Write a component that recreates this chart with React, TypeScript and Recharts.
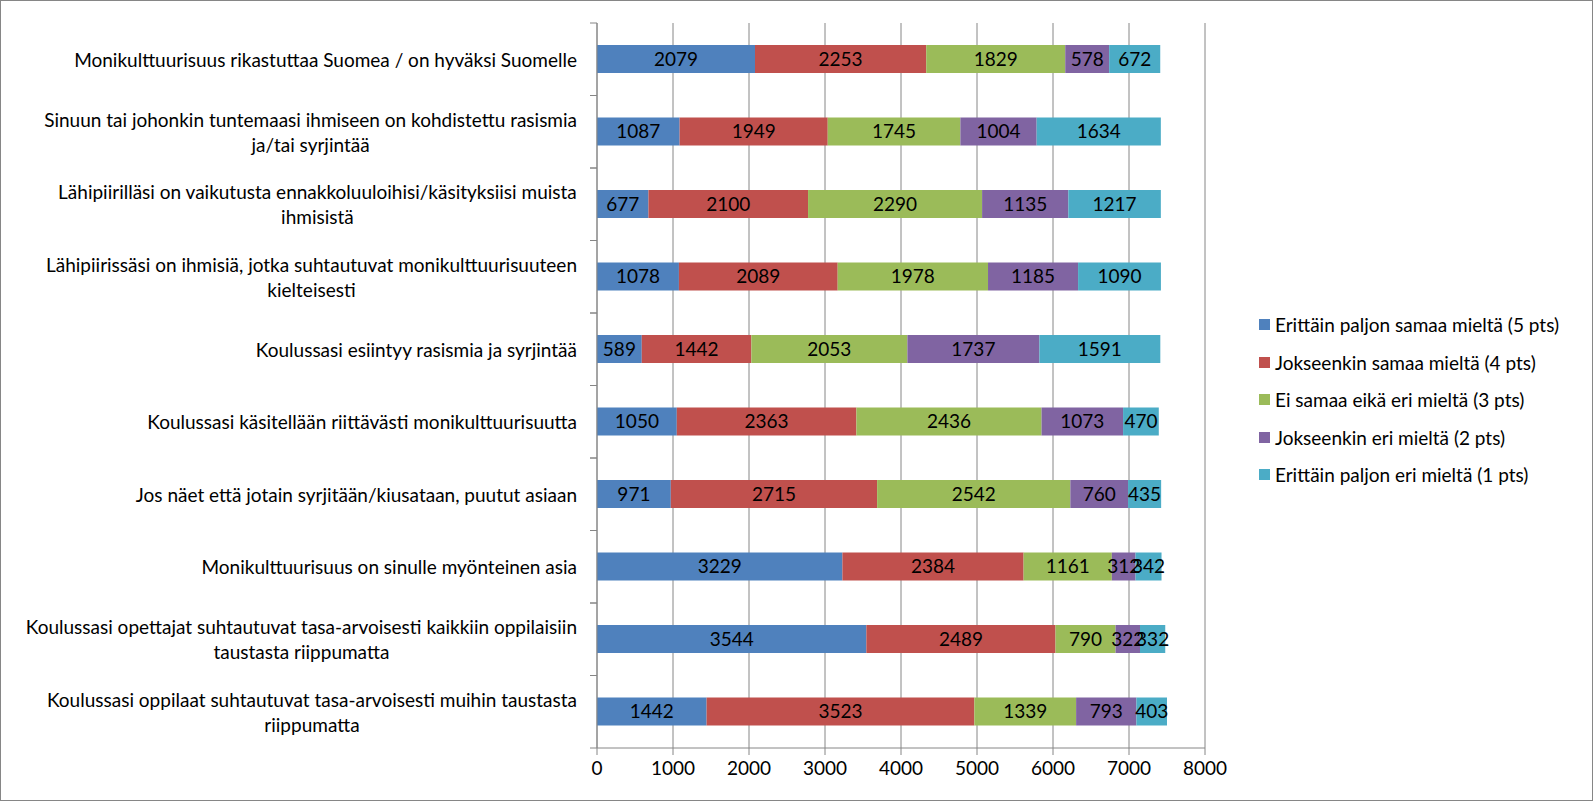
import React from "react";
import {
	BarChart,
	Bar,
	XAxis,
	YAxis,
	CartesianGrid,
	Legend,
	LabelList,
} from "recharts";

// statements (line breaks as in the original chart)
const categories: string[] = [
	"Monikulttuurisuus rikastuttaa Suomea / on hyväksi Suomelle",
	"Sinuun tai johonkin tuntemaasi ihmiseen on kohdistettu rasismia\nja/tai syrjintää",
	"Lähipiirilläsi on vaikutusta ennakkoluuloihisi/käsityksiisi muista\nihmisistä",
	"Lähipiirissäsi on ihmisiä, jotka suhtautuvat monikulttuurisuuteen\nkielteisesti",
	"Koulussasi esiintyy rasismia ja syrjintää",
	"Koulussasi käsitellään riittävästi monikulttuurisuutta",
	"Jos näet että jotain syrjitään/kiusataan, puutut asiaan",
	"Monikulttuurisuus on sinulle myönteinen asia",
	"Koulussasi opettajat suhtautuvat tasa-arvoisesti kaikkiin oppilaisiin\ntaustasta riippumatta",
	"Koulussasi oppilaat suhtautuvat tasa-arvoisesti muihin taustasta\nriippumatta",
];

const seriesNames: string[] = [
	"Erittäin paljon samaa mieltä (5 pts)",
	"Jokseenkin samaa mieltä (4 pts)",
	"Ei samaa eikä eri mieltä (3 pts)",
	"Jokseenkin eri mieltä (2 pts)",
	"Erittäin paljon eri mieltä (1 pts)",
];

const pts5 = [2079, 1087, 677, 1078, 589, 1050, 971, 3229, 3544, 1442];
const pts4 = [2253, 1949, 2100, 2089, 1442, 2363, 2715, 2384, 2489, 3523];
const pts3 = [1829, 1745, 2290, 1978, 2053, 2436, 2542, 1161, 790, 1339];
const pts2 = [578, 1004, 1135, 1185, 1737, 1073, 760, 312, 322, 793];
const pts1 = [672, 1634, 1217, 1090, 1591, 470, 435, 342, 332, 403];

const xTicks = [0, 1000, 2000, 3000, 4000, 5000, 6000, 7000, 8000];

const colors = ["#4F81BD", "#C0504D", "#9BBB59", "#8064A2", "#4BACC6"];
const keys = ["s5", "s4", "s3", "s2", "s1"];

const rows = categories.map((name, i) => ({
	name,
	s5: pts5[i],
	s4: pts4[i],
	s3: pts3[i],
	s2: pts2[i],
	s1: pts1[i],
}));

const W = 1593;
const H = 801;
const TOP = 23;
const X_AXIS_H = 53;
const Y_AXIS_W = 597;
const RIGHT = 388;
const TICK = 7;
const TICK_GAP = 13;
const FS = 19;
const LINE_H = 25;
const GRAY = "#868686";
const FONT = "Lato, 'Open Sans', sans-serif";

const band = (H - TOP - X_AXIS_H) / categories.length;

let ctx: CanvasRenderingContext2D | null = null;
const textWidth = (t: string) => {
	if (!ctx) ctx = document.createElement("canvas").getContext("2d");
	if (!ctx) return t.length * 9;
	ctx.font = `${FS}px Lato`;
	return ctx.measureText(t).width;
};

const CategoryTick = (props: any) => {
	const { x, y, payload } = props;
	const lines = String(payload.value).split("\n");
	const axisX = x + TICK + TICK_GAP;
	const widest = Math.max(...lines.map(textWidth));
	const cx = x - widest / 2;
	return (
		<g>
			<line x1={axisX - TICK} x2={axisX} y1={y - band / 2} y2={y - band / 2} stroke={GRAY} />
			<line x1={axisX - TICK} x2={axisX} y1={y + band / 2} y2={y + band / 2} stroke={GRAY} />
			{lines.map((l, i) => (
				<text
					key={i}
					x={lines.length > 1 ? cx : x}
					y={y + (i - (lines.length - 1) / 2) * LINE_H}
					textAnchor={lines.length > 1 ? "middle" : "end"}
					dominantBaseline="central"
					fontSize={FS}
					fill="#000"
				>
					{l}
				</text>
			))}
		</g>
	);
};

const LegendBox = () => (
	<div style={{ fontFamily: FONT, fontSize: FS, color: "#000" }}>
		{seriesNames.map((n, i) => (
			<div key={n} style={{ height: 37.5, display: "flex", alignItems: "center" }}>
				<span
					style={{
						display: "inline-block",
						width: 11,
						height: 11,
						background: colors[i],
						marginRight: 5,
					}}
				/>
				{n}
			</div>
		))}
	</div>
);

export default function App() {
	return (
		<div style={{ position: "absolute", left: 0, top: 0, width: W, height: H, fontFamily: FONT, background: "#fff" }}>
			<BarChart
				width={W}
				height={H}
				data={rows}
				layout="vertical"
				margin={{ top: TOP, right: RIGHT, bottom: 0, left: 0 }}
				barSize={28}
			>
				<CartesianGrid horizontal={false} stroke={GRAY} />
				<XAxis
					type="number"
					domain={[0, 8000]}
					ticks={xTicks}
					height={X_AXIS_H}
					stroke={GRAY}
					tickSize={TICK}
					tickMargin={7}
					tick={{ fill: "#000", fontSize: FS }}
				/>
				<YAxis
					type="category"
					dataKey="name"
					width={Y_AXIS_W}
					stroke={GRAY}
					tickLine={false}
					tickSize={TICK}
					tickMargin={TICK_GAP}
					tick={<CategoryTick />}
					interval={0}
				/>
				<Legend
					layout="vertical"
					align="center"
					verticalAlign="middle"
					content={<LegendBox />}
					wrapperStyle={{ left: 1259, top: 306, width: 334 }}
				/>
				{keys.map((k, i) => (
					<Bar key={k} dataKey={k} name={seriesNames[i]} stackId="a" fill={colors[i]} isAnimationActive={false}>
						<LabelList dataKey={k} position="center" fill="#000" fontSize={FS} />
					</Bar>
				))}
			</BarChart>
			<div
				style={{
					position: "absolute",
					left: 0,
					top: 0,
					width: W,
					height: H,
					boxSizing: "border-box",
					border: `1px solid ${GRAY}`,
					pointerEvents: "none",
				}}
			/>
		</div>
	);
}
